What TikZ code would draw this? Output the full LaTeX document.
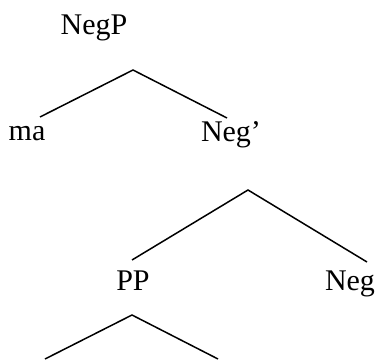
\documentclass[tikz,border=0pt]{standalone}
\usepackage{fontspec}
\setmainfont{Liberation Serif}
\usepackage{tikz}
\usetikzlibrary{positioning,calc}

\begin{document}
\begin{tikzpicture}[
    x=1pt,y=1pt,
    syn/.style = {anchor=base,inner sep=0pt,font=\fontsize{30}{36}\selectfont},
    br/.style  = {black,line width=1.5pt},
  ]
  \useasboundingbox (0,0) rectangle (377,359);

  \node[syn] (negp) at (94,324)  {NegP};
  \node[syn] (ma)   at (27,218)  {ma};
  \node[syn] (negb) at (231,217) {Neg’};
  \node[syn] (pp)   at (133,69)  {PP};
  \node[syn] (neg)  at (350,69)  {Neg};

  % Sommets et extrémités des branches
  \coordinate (j1)   at (133,289);
  \coordinate (ma-t) at (40,242);
  \coordinate (nb-t) at (227,241);
  \coordinate (j2)   at (248,169);
  \coordinate (pp-t) at (132,99);
  \coordinate (ng-t) at (367,97);
  \coordinate (j3)   at (132,44);
  \coordinate (l3)   at (45,0);
  \coordinate (r3)   at (218,0);

  \draw[br] (ma-t) -- (j1) -- (nb-t);
  \draw[br] (pp-t) -- (j2) -- (ng-t);
  \draw[br] (l3) -- (j3) -- (r3);

\end{tikzpicture}
\end{document}
